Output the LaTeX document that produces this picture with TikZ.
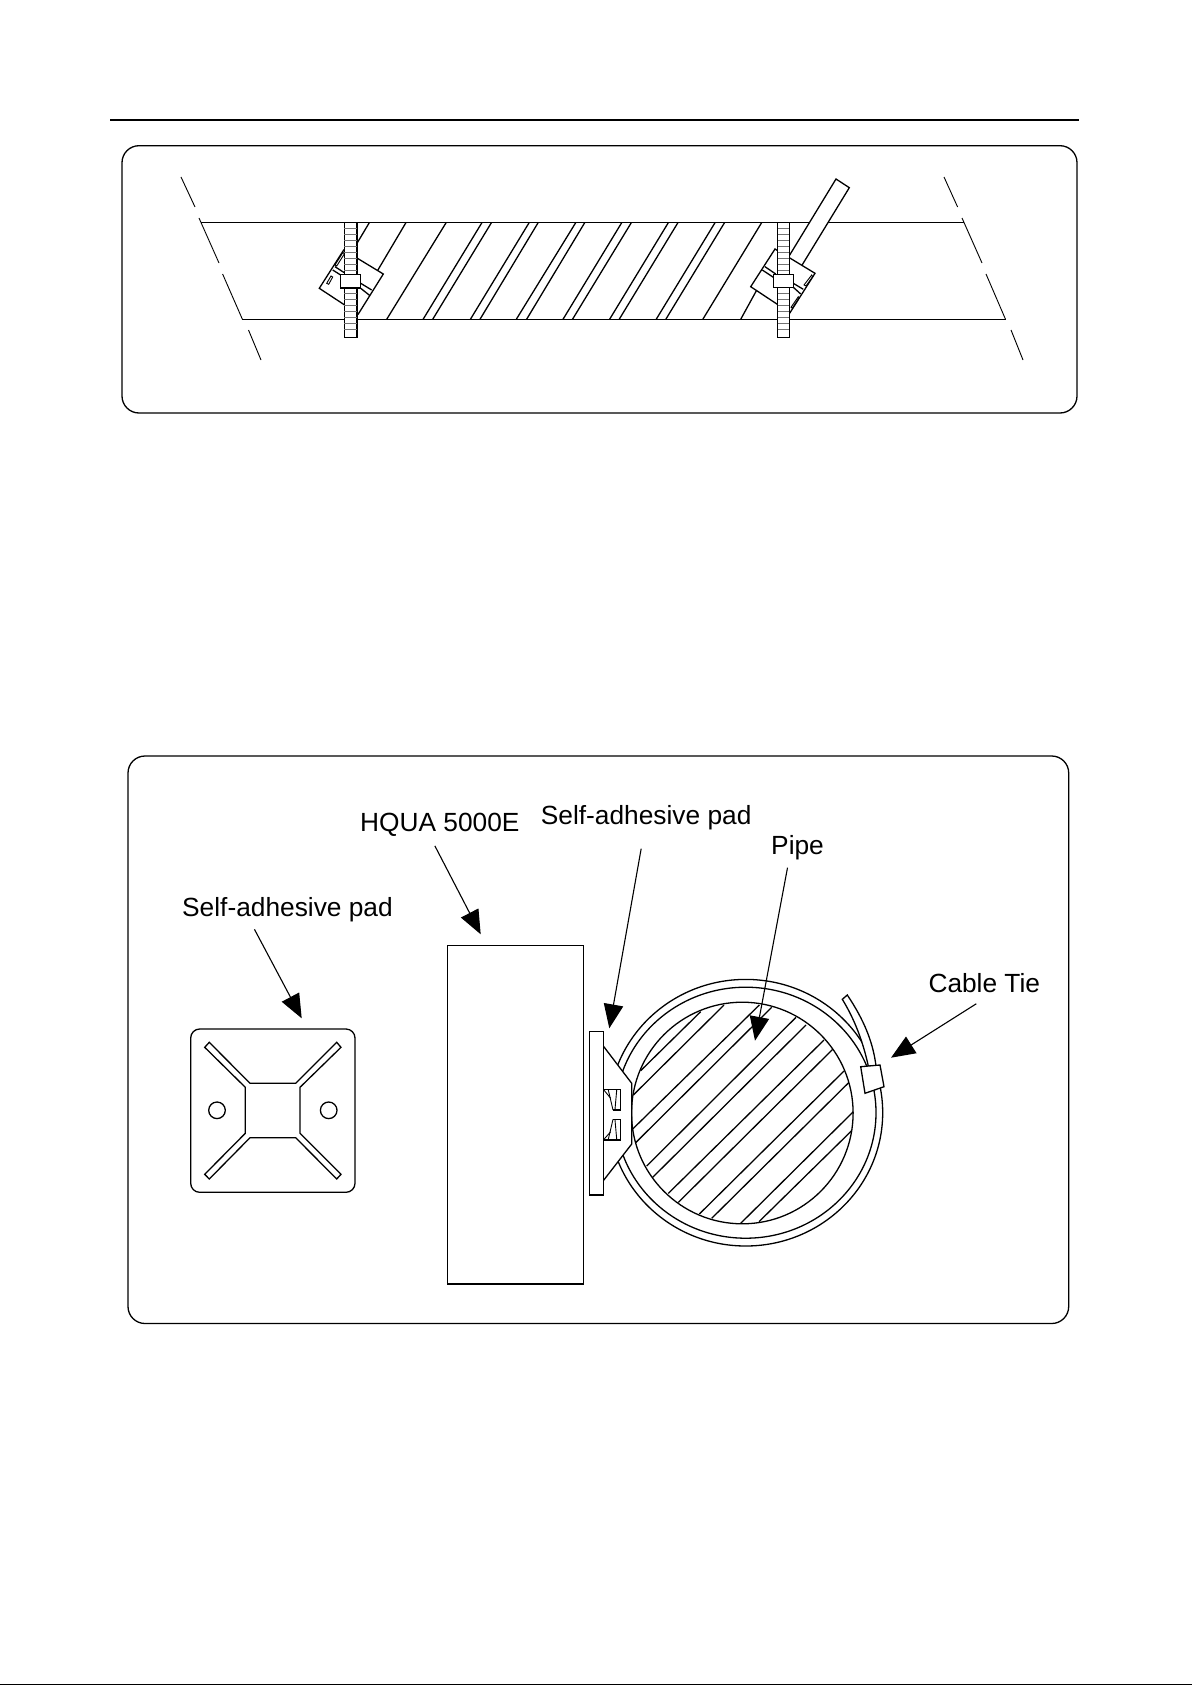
\documentclass[tikz,border=0pt]{standalone}
\usepackage{fontspec}
\setmainfont{Liberation Sans}
\usetikzlibrary{arrows.meta,positioning}
\tikzset{
  part/.style={line width=1.3pt,fill=white},
  edge/.style={line width=1.3pt},
  thinedge/.style={line width=0.9pt},
  panel/.style={line width=1.3pt,rounded corners=17pt},
  lbl/.style={anchor=base west,inner sep=0pt,font=\fontsize{26.3}{30}\selectfont},
  pointer/.style={line width=1.1pt,-{Triangle[length=24pt,width=19.5pt]}}
}
\begin{document}
\begin{tikzpicture}[x=1pt,y=-1pt]
\useasboundingbox (0,0) rectangle (1192,1685);
\fill (0,1684) rectangle (1192,1685);
\draw[line width=2.2pt] (110,120) -- (1079,120);
\draw[panel] (122,145.7) rectangle (1077,413);
\draw[edge] (201,222.7) -- (964,222.7);
\draw[edge] (242.4,319.3) -- (1005.5,319.3);
\foreach \xa/\ya/\xb/\yb in {181/177/195/207,199/218/219/263,222.6/274/242.4/319.3,248.5/330/261/360,
  944/177/957.6/207,962/218/982/263,986/274/1005.5/319.3,1011/330/1023/360}
  \draw[thinedge] (\xa,\ya) -- (\xb,\yb);
\foreach \xa/\xb in {446.1/386.7,481.9/423.1,491.4/432.7,529.1/470.4,538.1/480,575.7/516.3,584.7/526.6,
  621.7/563,631.3/572.5,668.3/609.6,677.9/619.2,715/656.2,724.5/665.8,761.6/702.8}
  \draw[edge] (\xa,222.7) -- (\xb,319.3);
\draw[edge] (369.3,222.7) -- (350,255);
\draw[edge] (405.9,222.7) -- (372,280);
\draw[edge] (740.7,319.3) -- (765,275);
\draw[part] (836,179) -- (849.3,187.7) -- (796,275) -- (783,266) -- cycle;
\draw[part] (319.3,288.3) -- (343.7,250) -- (383.3,274) -- (358.3,314) -- cycle;
\draw[part] (750.7,286.7) -- (775,249) -- (815,273.3) -- (790,312.7) -- cycle;
\foreach \xa/\ya/\xb/\yb in {332.7/270/344.3/277.3,335/266.7/344.3/272.7,360.7/283.3/371.7/290,360.7/288.3/370/295.7,
  762.3/270/773.3/277.3,765/266.7/775.7/274,793.3/283.3/803.3/289.3,793.3/287.3/800.7/294}
  \draw[edge] (\xa,\ya) -- (\xb,\yb);
\draw[thinedge] (343,252.3) -- (335,265) -- (336.7,266) -- (344.3,254) -- cycle;
\draw[thinedge] (331,276) -- (326.7,283.3) -- (328.7,284.3) -- (332.7,277) -- cycle;
\draw[thinedge] (811.7,275) -- (804,285) -- (806,286) -- (812.7,276.7) -- cycle;
\draw[thinedge] (798.3,296.7) -- (791,307.3) -- (792.3,308.3) -- (799.3,297.7) -- cycle;
\foreach \xa/\xb in {344.3/357,777.7/789.3} {
  \draw[part] (\xa,222.7) rectangle (\xb,337.7);
  \foreach \yy in {228.5,234.4,...,334}
    \draw[line width=0.5pt,black!55] (\xa,\yy) -- (\xb,\yy);
}
\draw[part] (340.7,274.7) rectangle (360.7,288);
\draw[part] (773.7,274.3) rectangle (793.3,287.3);

\draw[panel] (128,756) rectangle (1068.7,1323.5);
\draw[edge,rounded corners=9pt] (190.7,1029) rectangle (355,1192.3);
\draw[edge] (250,1083.3) -- (209.3,1042.3) -- (204.7,1047.3) -- (245.3,1087.3) -- (245.3,1133.3)
  -- (204.7,1174.3) -- (209.3,1179) -- (250,1137.7) -- (295.7,1137.7) -- (336.7,1179) -- (341,1174.3)
  -- (300,1133.3) -- (300,1087.3) -- (341,1047.3) -- (336.7,1042.3) -- (295.7,1083.3) -- cycle;
\draw[edge] (217,1110.3) circle (8.3);
\draw[edge] (328.7,1110.3) circle (8.3);
\draw[edge] (447.3,945.3) rectangle (583.3,1284);

\draw[edge] (745.7,1112.7) ellipse (137 and 133.3);
\draw[edge] (745.7,1112.7) ellipse (130.3 and 125.5);
\draw[edge] (742.3,1113) circle (110.8);
\foreach \xa/\ya/\xb/\yb in {392/155/212/332,462/135/190/405,568/135/185/510,605/142/197/548,
  678/172/230/618,708/195/248/652,762/240/295/700,788/268/325/727,
  822/333/388/762,836/368/425/775,850/455/512/790,845/512/567/785}
  \draw[edge] (570+\xa/3,960+\ya/3) -- (570+\xb/3,960+\yb/3);
\draw[part] (603.3,1046) -- (631.7,1083.3) -- (631.7,1144) -- (603.3,1180.7) -- cycle;
\draw[part] (589.3,1031.7) rectangle (603.3,1195);
\draw[edge] (603.3,1089.3) -- (620.7,1089.3) -- (620.7,1110) -- (613,1110);
\draw[edge] (603.3,1140) -- (620.7,1140) -- (620.7,1119.3) -- (613,1119.3);
\draw[thinedge] (603.3,1089.3) -- (610.7,1098.3);
\draw[thinedge] (603.3,1140) -- (610.7,1131.7);
\draw[thinedge] (608.3,1090) .. controls (610,1100) .. (613,1110);
\draw[thinedge] (608.3,1139.3) .. controls (610,1129) .. (613,1119.3);
\draw[thinedge] (616.7,1090) -- (615,1109.3);
\draw[thinedge] (616.7,1139.3) -- (615,1120);
\draw[part] (842.3,999.3) -- (847.3,995) .. controls (864,1020) and (873,1042) .. (876,1066)
  -- (868.3,1066) .. controls (863,1042) and (855,1020) .. cycle;
\draw[part] (860.7,1066.7) -- (880,1065) -- (884,1086.7) -- (865,1093.3) -- cycle;

\node[lbl] (lblpad) at (182,916.7) {Self-adhesive pad};
\node[lbl] (lblunit) at (360,831.7) {HQUA 5000E};
\node[lbl] (lblmount) at (540.7,824) {Self-adhesive pad};
\node[lbl] (lblpipe) at (771,854) {Pipe};
\node[lbl] (lbltie) at (928.3,992.3) {Cable Tie};
\coordinate (tippad) at (301.7,1018.3);
\coordinate (tipunit) at (480.7,934.3);
\coordinate (tipmount) at (609.3,1028.3);
\coordinate (tippipe) at (755,1040.7);
\coordinate (tiptie) at (891,1057.7);
\draw[pointer] ([xshift=-33pt,yshift=-7pt]lblpad.south) -- (tippad);
\draw[pointer] ([xshift=-5pt,yshift=-9pt]lblunit.south) -- (tipunit);
\draw[pointer] ([xshift=-5pt,yshift=-19pt]lblmount.south) -- (tipmount);
\draw[pointer] ([xshift=-10pt,yshift=-8pt]lblpipe.south) -- (tippipe);
\draw[pointer] ([xshift=-8pt,yshift=-11pt]lbltie.south) -- (tiptie);
\end{tikzpicture}
\end{document}
